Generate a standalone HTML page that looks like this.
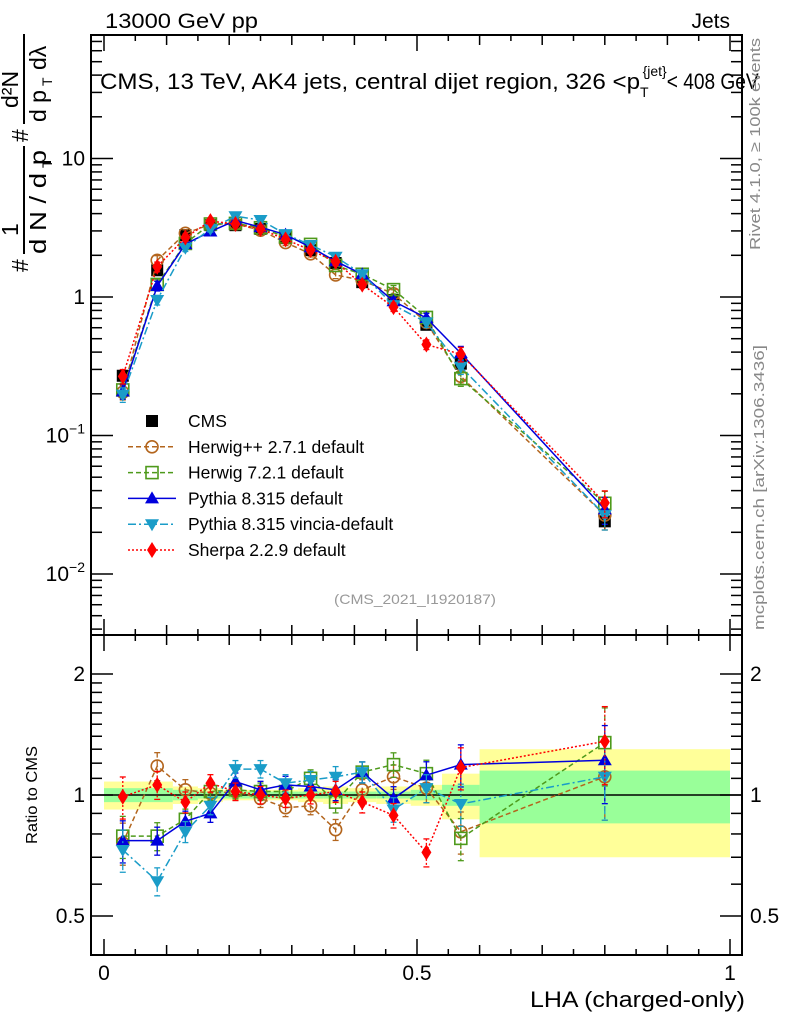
<!DOCTYPE html>
<html><head><meta charset="utf-8"><style>
html,body{margin:0;padding:0;background:#fff;}
svg{display:block;font-family:"Liberation Sans",sans-serif;}
</style></head><body>
<svg id="c" width="786" height="1024" viewBox="0 0 786 1024" xmlns="http://www.w3.org/2000/svg">
<rect width="786" height="1024" fill="#fff"/>
<g id="bands"></g>
<g id="axes"></g>
<g id="series"></g>
<text x="105" y="28" font-size="21" textLength="153" lengthAdjust="spacingAndGlyphs">13000 GeV pp</text>
<text x="730" y="28" font-size="21" text-anchor="end">Jets</text>
<text x="100" y="89" font-size="22"><tspan textLength="540" lengthAdjust="spacingAndGlyphs">CMS, 13 TeV, AK4 jets, central dijet region, 326 &lt;p</tspan><tspan font-size="14" dy="8">T</tspan><tspan font-size="14" dy="-21" dx="-6">{jet}</tspan><tspan dy="13" textLength="92" lengthAdjust="spacingAndGlyphs">&lt; 408 GeV</tspan></text>
<text x="415" y="604" font-size="14" fill="#999" text-anchor="middle" textLength="162" lengthAdjust="spacingAndGlyphs">(CMS_2021_I1920187)</text>
<text transform="translate(760,38) rotate(-90)" font-size="15" fill="#888" text-anchor="end" textLength="212" lengthAdjust="spacingAndGlyphs">Rivet 4.1.0, ≥ 100k events</text>
<text transform="translate(764,345) rotate(-90)" font-size="15" fill="#888" text-anchor="end" textLength="285" lengthAdjust="spacingAndGlyphs">mcplots.cern.ch [arXiv:1306.3436]</text>
<g transform="translate(28,272) rotate(-90)" font-size="23">
  <text x="0" y="0">#</text>
  <text x="36" y="-10">1</text>
  <line x1="18" y1="-4" x2="126" y2="-4" stroke="#000" stroke-width="2"/>
  <text x="18" y="18" textLength="104" lengthAdjust="spacingAndGlyphs">d N / d p</text>
  <text x="104" y="24" font-size="14">T</text>
  <text x="130" y="0">#</text>
  <text x="164" y="-10">d²N</text>
  <line x1="148" y1="-4" x2="238" y2="-4" stroke="#000" stroke-width="2"/>
  <text x="150" y="18">d p</text>
  <text x="186" y="24" font-size="14">T</text>
  <text x="202" y="18">dλ</text>
</g>
<text transform="translate(37,795) rotate(-90)" font-size="16" text-anchor="middle" textLength="98" lengthAdjust="spacingAndGlyphs">Ratio to CMS</text>
<text x="745" y="1007" font-size="22" text-anchor="end" textLength="215" lengthAdjust="spacingAndGlyphs">LHA (charged-only)</text>
<g id="legend"></g>
</svg>
<script>
const binEdges=[0,0.06,0.11,0.15,0.19,0.23,0.27,0.31,0.35,0.39,0.435,0.49,0.54,0.6,1.0];
const cmsValues=[0.27,1.56,2.8,3.3,3.3,3.1,2.66,2.18,1.76,1.28,0.95,0.63,0.33,0.024];
const cmsErrRel=[0.05,0.05,0.04,0.03,0.03,0.03,0.03,0.03,0.03,0.04,0.05,0.06,0.08,0.12];
const bandTotal=[0.08,0.08,0.05,0.04,0.03,0.03,0.03,0.04,0.05,0.04,0.05,0.06,0.13,0.30];
const bandStat=[0.04,0.04,0.03,0.02,0.02,0.02,0.02,0.02,0.02,0.02,0.02,0.03,0.06,0.15];
const ratioHerwigPP=[0.76,1.18,1.03,1.01,1.02,0.98,0.93,0.94,0.82,1.03,1.11,1.04,0.81,1.11];
const ratioHerwig7=[0.79,0.79,0.87,1.02,1.03,1.02,1.02,1.10,0.96,1.14,1.19,1.13,0.78,1.35];
const ratioPythia=[0.77,0.77,0.86,0.90,1.08,1.03,1.06,1.05,1.03,1.14,0.98,1.12,1.19,1.22];
const ratioVincia=[0.73,0.61,0.81,0.94,1.16,1.16,1.07,1.09,1.11,1.14,0.92,1.04,0.95,1.11];
const ratioSherpa=[0.99,1.06,0.96,1.07,1.02,1.00,0.98,1.00,1.02,0.96,0.89,0.72,1.17,1.36];
const mcErr=[0.12,0.08,0.06,0.05,0.05,0.05,0.05,0.05,0.06,0.06,0.07,0.08,0.12,0.22];
const yTicksMain=[10,1,0.1,0.01];
const xTickLabels=["0","0.5","1"];
const xTickVals=[0,0.5,1];
const ratioTickVals=[0.5,1,2];
const ratioTickLabels=["0.5","1","2"];

const NS="http://www.w3.org/2000/svg";
const L=91,R=742,T1=35,B1=635,B2=955;
const X=v=>104+626*v;
const Y=v=>297-138.5*Math.log10(v);
const YR=r=>{const y=795-121*Math.log2(r);return Math.max(T1+600,Math.min(B2,y));};
function mk(p,tag,at){const e=document.createElementNS(NS,tag);for(const k in at)e.setAttribute(k,at[k]);p.appendChild(e);return e;}
const centers=binEdges.slice(0,-1).map((e,i)=>(e+binEdges[i+1])/2);

const bands=document.getElementById('bands');
centers.forEach((c,i)=>{
  let r=mk(bands,'rect',{x:X(binEdges[i]),y:YR(1+bandTotal[i]),width:X(binEdges[i+1])-X(binEdges[i]),height:YR(1-bandTotal[i])-YR(1+bandTotal[i]),fill:'#ffff99'});
  
  
  let g=mk(bands,'rect',{x:X(binEdges[i]),y:YR(1+bandStat[i]),width:X(binEdges[i+1])-X(binEdges[i]),height:YR(1-bandStat[i])-YR(1+bandStat[i]),fill:'#99ff99'});
  
  
});

const ax=document.getElementById('axes');
mk(ax,'rect',{x:L,y:T1,width:R-L,height:B1-T1,fill:'none',stroke:'#000','stroke-width':2});
mk(ax,'rect',{x:L,y:B1,width:R-L,height:B2-B1,fill:'none',stroke:'#000','stroke-width':2});
mk(ax,'line',{x1:L,y1:795,x2:R,y2:795,stroke:'#000','stroke-width':1.5});
for(let k=0;k<=20;k++){const v=k*0.05,x=X(v);const len=(k%10==0)?16:(k%2==0?10:6);
  [[B1,-1],[T1,1],[B2,-1],[B1,1]].forEach(([y,d])=>mk(ax,'line',{x1:x,y1:y,x2:x,y2:y+d*len,stroke:'#000','stroke-width':1.5}));}
xTickVals.forEach((v,i)=>{const t=mk(ax,'text',{x:X(v),y:980,'font-size':21,'text-anchor':'middle'});t.textContent=xTickLabels[i];
  
  });
for(let d=-3;d<=2;d++){for(let m=1;m<10;m++){const v=m*Math.pow(10,d),y=Y(v);if(y<T1||y>B1)continue;const len=m==1?22:11;
  mk(ax,'line',{x1:L,y1:y,x2:L+len,y2:y,stroke:'#000','stroke-width':1.5});mk(ax,'line',{x1:R,y1:y,x2:R-len,y2:y,stroke:'#000','stroke-width':1.5});}}
yTicksMain.forEach(v=>{const t=mk(ax,'text',{x:L-6,y:Y(v)+7,'font-size':21,'text-anchor':'end'});
  const e=Math.round(Math.log10(v));
  if(e==1)t.textContent='10';else if(e==0)t.textContent='1';else{t.textContent='10';const s=mk(t,'tspan',{dy:-9,'font-size':14});s.textContent=String(e).replace('-','−');}
  
  });
[0.4,0.5,0.6,0.7,0.8,0.9,1,1.1,1.2,1.3,1.4,1.5,1.6,1.7,1.8,1.9,2,2.5].forEach(v=>{const y=795-121*Math.log2(v);if(y<B1||y>B2)return;const len=[0.5,1,2].includes(v)?22:11;
  mk(ax,'line',{x1:L,y1:y,x2:L+len,y2:y,stroke:'#000','stroke-width':1.5});mk(ax,'line',{x1:R,y1:y,x2:R-len,y2:y,stroke:'#000','stroke-width':1.5});});
ratioTickVals.forEach((v,i)=>{const y=795-121*Math.log2(v)+7;
  const a=mk(ax,'text',{x:L-6,y:y,'font-size':21,'text-anchor':'end'});a.textContent=ratioTickLabels[i];
  
  
  const b=mk(ax,'text',{x:R+8,y:y,'font-size':21});b.textContent=ratioTickLabels[i];
  
  });

function marker(g,type,x,y,col){
  if(type=='sq')mk(g,'rect',{x:x-6,y:y-6,width:12,height:12,fill:'#000'});
  else if(type=='osq')mk(g,'rect',{x:x-6,y:y-6,width:12,height:12,fill:'none',stroke:col,'stroke-width':1.6});
  else if(type=='oc')mk(g,'circle',{cx:x,cy:y,r:6,fill:'none',stroke:col,'stroke-width':1.6});
  else if(type=='tu')mk(g,'polygon',{points:`${x},${y-7} ${x-7},${y+5} ${x+7},${y+5}`,fill:col});
  else if(type=='td')mk(g,'polygon',{points:`${x},${y+7} ${x-7},${y-5} ${x+7},${y-5}`,fill:col});
  else if(type=='di')mk(g,'polygon',{points:`${x},${y-8} ${x-5},${y} ${x},${y+8} ${x+5},${y}`,fill:col});
}
const models=[
 {name:'herwigpp',label:'Herwig++ 2.7.1 default',ratio:ratioHerwigPP,col:'#b3651d',dash:'5,3',m:'oc'},
 {name:'herwig7',label:'Herwig 7.2.1 default',ratio:ratioHerwig7,col:'#4e9a1b',dash:'5,3',m:'osq'},
 {name:'pythia',label:'Pythia 8.315 default',ratio:ratioPythia,col:'#0000dd',dash:'',m:'tu'},
 {name:'vincia',label:'Pythia 8.315 vincia-default',ratio:ratioVincia,col:'#1a9cc8',dash:'8,3,2,3',m:'td'},
 {name:'sherpa',label:'Sherpa 2.2.9 default',ratio:ratioSherpa,col:'#ff0000',dash:'2,2',m:'di'}];
const S=document.getElementById('series');
const cg=mk(S,'g',{});


cmsValues.forEach((v,i)=>{const x=X(centers[i]);mk(cg,'line',{x1:x,y1:Y(v*(1+cmsErrRel[i])),x2:x,y2:Y(v*(1-cmsErrRel[i])),stroke:'#000','stroke-width':1.5});marker(cg,'sq',x,Y(v));});
models.forEach(md=>{
  const g=mk(S,'g',{});
  
  
  const top=md.ratio.map((r,i)=>[X(centers[i]),Y(cmsValues[i]*r)]);
  const bot=md.ratio.map((r,i)=>[X(centers[i]),YR(r)]);
  [top,bot].forEach((pts,pi)=>{
    mk(g,'polyline',{points:pts.map(p=>p.join(',')).join(' '),fill:'none',stroke:md.col,'stroke-width':1.5,'stroke-dasharray':md.dash});
    pts.forEach((p,i)=>{const r=md.ratio[i],e=mcErr[i];
      const y1=pi?YR(r*(1+e)):Y(cmsValues[i]*r*(1+e)), y2=pi?YR(r*(1-e)):Y(cmsValues[i]*r*(1-e));
      mk(g,'line',{x1:p[0],y1:y1,x2:p[0],y2:y2,stroke:md.col,'stroke-width':1.3,'stroke-dasharray':md.dash});
      mk(g,'line',{x1:p[0]-3,y1:y1,x2:p[0]+3,y2:y1,stroke:md.col,'stroke-width':1.3});
      mk(g,'line',{x1:p[0]-3,y1:y2,x2:p[0]+3,y2:y2,stroke:md.col,'stroke-width':1.3});
      marker(g,md.m,p[0],p[1],md.col);});
  });
});
const lg=document.getElementById('legend');
const ls=[{label:'CMS',m:'sq',col:'#000',dash:null}].concat(models);
ls.forEach((e,i)=>{const y=421+i*25.8;const g=mk(lg,'g',{});
  
  
  if(e.dash!==null)mk(g,'line',{x1:128,y1:y,x2:176,y2:y,stroke:e.col,'stroke-width':1.5,'stroke-dasharray':e.dash});
  marker(g,e.m,152,y,e.col);
  const t=mk(g,'text',{x:188,y:y+6,'font-size':17.5});t.textContent=e.label;});
</script>
</body></html>
